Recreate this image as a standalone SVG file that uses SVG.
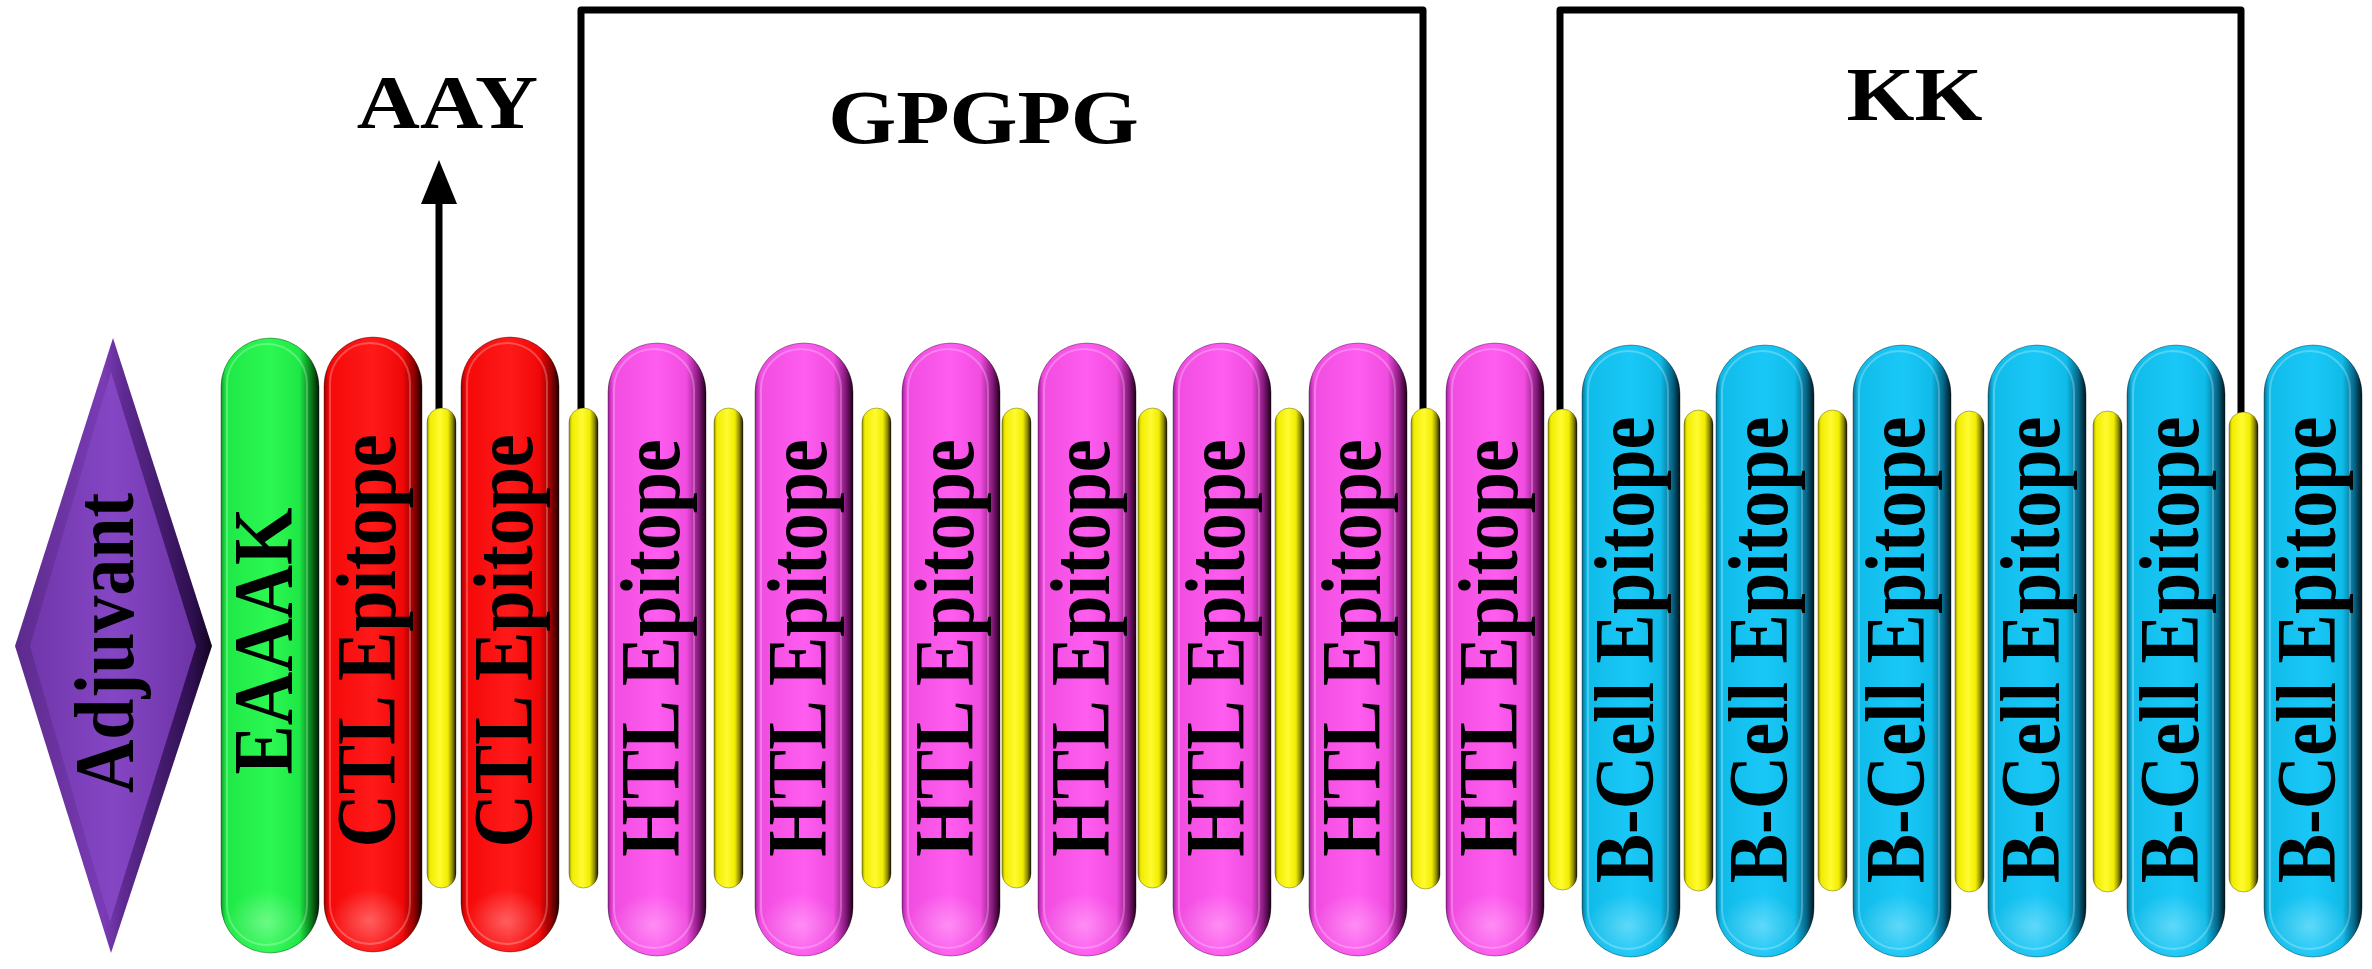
<svg xmlns="http://www.w3.org/2000/svg" width="2372" height="969" viewBox="0 0 2372 969">
<defs>
<style>
.lbl{font-family:"Liberation Serif","Times New Roman",serif;font-weight:bold;font-size:74px;fill:#000;text-anchor:middle}
.hdr{font-family:"Liberation Serif","Times New Roman",serif;font-weight:bold;font-size:76px;fill:#000;text-anchor:middle}
.pill{stroke:#000;stroke-opacity:0.35;stroke-width:1}
.rim{fill:none;stroke:#fff;stroke-opacity:0.25;stroke-width:2}
.bar{stroke:#000;stroke-opacity:0.3;stroke-width:1}
.conn{fill:none;stroke:#000;stroke-width:7;stroke-linejoin:round}
</style>
<linearGradient id="gGreen" x1="0" y1="0" x2="1" y2="0">
<stop offset="0" stop-color="#0c9c22"/><stop offset="0.05" stop-color="#1ee846"/><stop offset="0.5" stop-color="#2cf852"/><stop offset="0.8" stop-color="#1ee846"/><stop offset="0.92" stop-color="#0b7a1a"/><stop offset="1" stop-color="#021a05"/>
</linearGradient>
<linearGradient id="gRed" x1="0" y1="0" x2="1" y2="0">
<stop offset="0" stop-color="#a00000"/><stop offset="0.05" stop-color="#f50808"/><stop offset="0.5" stop-color="#ff1a1a"/><stop offset="0.8" stop-color="#f00808"/><stop offset="0.92" stop-color="#900000"/><stop offset="1" stop-color="#200000"/>
</linearGradient>
<linearGradient id="gMag" x1="0" y1="0" x2="1" y2="0">
<stop offset="0" stop-color="#a0209a"/><stop offset="0.05" stop-color="#f04ce0"/><stop offset="0.5" stop-color="#ff5cf0"/><stop offset="0.8" stop-color="#f04ce0"/><stop offset="0.92" stop-color="#8a1a80"/><stop offset="1" stop-color="#200018"/>
</linearGradient>
<linearGradient id="gCyan" x1="0" y1="0" x2="1" y2="0">
<stop offset="0" stop-color="#0a6e90"/><stop offset="0.05" stop-color="#0fbbe8"/><stop offset="0.5" stop-color="#1ac8f8"/><stop offset="0.8" stop-color="#0fbbe8"/><stop offset="0.92" stop-color="#06688a"/><stop offset="1" stop-color="#001820"/>
</linearGradient>
<linearGradient id="gYel" x1="0" y1="0" x2="1" y2="0">
<stop offset="0" stop-color="#9a9400"/><stop offset="0.1" stop-color="#f0ec00"/><stop offset="0.45" stop-color="#fffb30"/><stop offset="0.72" stop-color="#f0ec00"/><stop offset="0.88" stop-color="#8a8600"/><stop offset="1" stop-color="#1a1800"/>
</linearGradient>
<linearGradient id="gPurOut" x1="0" y1="0" x2="1" y2="0">
<stop offset="0" stop-color="#5c2a8c"/><stop offset="0.45" stop-color="#7a3cb5"/><stop offset="0.55" stop-color="#5e2a92"/><stop offset="0.9" stop-color="#2e0f50"/><stop offset="1" stop-color="#12041f"/>
</linearGradient>
<linearGradient id="gPurIn" x1="0" y1="0" x2="1" y2="0">
<stop offset="0" stop-color="#7036aa"/><stop offset="0.5" stop-color="#8546c4"/><stop offset="1" stop-color="#6c33a6"/>
</linearGradient>
<radialGradient id="glow" cx="0.5" cy="0.5" r="0.5">
<stop offset="0" stop-color="#fff" stop-opacity="0.3"/><stop offset="1" stop-color="#fff" stop-opacity="0"/>
</radialGradient>
<marker id="ah" markerUnits="userSpaceOnUse" markerWidth="44" markerHeight="36" viewBox="0 0 44 36" refX="2" refY="18" orient="auto">
<path d="M0,0 L44,18 L0,36 z" fill="#000"/>
</marker>
</defs>
<rect width="2372" height="969" fill="#fff"/>

<g id="connectors">
<path class="conn" d="M581,410 L581,10 L1423,10 L1423,410"/>
<path class="conn" d="M1560,412 L1560,10 L2241,10 L2241,414"/>
<path class="conn" d="M439,410 L439,202" marker-end="url(#ah)"/>
</g>

<g id="labels">
<text class="hdr" transform="translate(447.5,128) scale(1.15,1)">AAY</text>
<text class="hdr" transform="translate(983.5,143) scale(1.15,1)">GPGPG</text>
<text class="hdr" transform="translate(1914.5,120) scale(1.15,1)">KK</text>
</g>

<g id="adjuvant">
<polygon points="113,338 212,646 111,953 15,646" fill="url(#gPurOut)"/>
<polygon points="111,372 196,646 110,922 30,646" fill="url(#gPurIn)"/>
<text class="lbl" transform="translate(133,643) scale(1.15,1) rotate(-90)">Adjuvant</text>
</g>

<g id="eaaak">
<rect class="pill" x="221" y="338" width="98" height="615" rx="49" fill="url(#gGreen)"/>
<rect class="rim" x="227" y="344" width="80" height="601" rx="40"/>
<ellipse cx="266" cy="922" rx="40" ry="32" fill="url(#glow)"/>
<text class="lbl" transform="translate(292,641) scale(1.15,1) rotate(-90)">EAAAK</text>
</g>

<g id="ctl1">
<rect class="pill" x="324" y="337" width="98" height="615" rx="49" fill="url(#gRed)"/>
<rect class="rim" x="330" y="343" width="80" height="601" rx="40"/>
<ellipse cx="369" cy="921" rx="40" ry="32" fill="url(#glow)"/>
<text class="lbl" transform="translate(395,641) scale(1.15,1) rotate(-90)">CTL Epitope</text>
</g>
<g id="ctl2">
<rect class="pill" x="461" y="337" width="98" height="615" rx="49" fill="url(#gRed)"/>
<rect class="rim" x="467" y="343" width="80" height="601" rx="40"/>
<ellipse cx="506" cy="921" rx="40" ry="32" fill="url(#glow)"/>
<text class="lbl" transform="translate(532,641) scale(1.15,1) rotate(-90)">CTL Epitope</text>
</g>

<g id="htl1">
<rect class="pill" x="608" y="343" width="98" height="613" rx="49" fill="url(#gMag)"/>
<rect class="rim" x="614" y="349" width="80" height="599" rx="40"/>
<ellipse cx="653" cy="925" rx="40" ry="32" fill="url(#glow)"/>
<text class="lbl" transform="translate(679,648) scale(1.15,1) rotate(-90)">HTL Epitope</text>
</g>
<g id="htl2">
<rect class="pill" x="755" y="343" width="98" height="613" rx="49" fill="url(#gMag)"/>
<rect class="rim" x="761" y="349" width="80" height="599" rx="40"/>
<ellipse cx="800" cy="925" rx="40" ry="32" fill="url(#glow)"/>
<text class="lbl" transform="translate(826,648) scale(1.15,1) rotate(-90)">HTL Epitope</text>
</g>
<g id="htl3">
<rect class="pill" x="902" y="343" width="98" height="613" rx="49" fill="url(#gMag)"/>
<rect class="rim" x="908" y="349" width="80" height="599" rx="40"/>
<ellipse cx="947" cy="925" rx="40" ry="32" fill="url(#glow)"/>
<text class="lbl" transform="translate(973,648) scale(1.15,1) rotate(-90)">HTL Epitope</text>
</g>
<g id="htl4">
<rect class="pill" x="1038" y="343" width="98" height="613" rx="49" fill="url(#gMag)"/>
<rect class="rim" x="1044" y="349" width="80" height="599" rx="40"/>
<ellipse cx="1083" cy="925" rx="40" ry="32" fill="url(#glow)"/>
<text class="lbl" transform="translate(1109,648) scale(1.15,1) rotate(-90)">HTL Epitope</text>
</g>
<g id="htl5">
<rect class="pill" x="1173" y="343" width="98" height="613" rx="49" fill="url(#gMag)"/>
<rect class="rim" x="1179" y="349" width="80" height="599" rx="40"/>
<ellipse cx="1218" cy="925" rx="40" ry="32" fill="url(#glow)"/>
<text class="lbl" transform="translate(1244,648) scale(1.15,1) rotate(-90)">HTL Epitope</text>
</g>
<g id="htl6">
<rect class="pill" x="1309" y="343" width="98" height="613" rx="49" fill="url(#gMag)"/>
<rect class="rim" x="1315" y="349" width="80" height="599" rx="40"/>
<ellipse cx="1354" cy="925" rx="40" ry="32" fill="url(#glow)"/>
<text class="lbl" transform="translate(1380,648) scale(1.15,1) rotate(-90)">HTL Epitope</text>
</g>
<g id="htl7">
<rect class="pill" x="1446" y="343" width="98" height="613" rx="49" fill="url(#gMag)"/>
<rect class="rim" x="1452" y="349" width="80" height="599" rx="40"/>
<ellipse cx="1491" cy="925" rx="40" ry="32" fill="url(#glow)"/>
<text class="lbl" transform="translate(1517,648) scale(1.15,1) rotate(-90)">HTL Epitope</text>
</g>

<g id="bcell1">
<rect class="pill" x="1582" y="345" width="98" height="612" rx="49" fill="url(#gCyan)"/>
<rect class="rim" x="1588" y="351" width="80" height="598" rx="40"/>
<ellipse cx="1627" cy="926" rx="40" ry="32" fill="url(#glow)"/>
<text class="lbl" transform="translate(1653,650) scale(1.15,1) rotate(-90)">B-Cell Epitope</text>
</g>
<g id="bcell2">
<rect class="pill" x="1716" y="345" width="98" height="612" rx="49" fill="url(#gCyan)"/>
<rect class="rim" x="1722" y="351" width="80" height="598" rx="40"/>
<ellipse cx="1761" cy="926" rx="40" ry="32" fill="url(#glow)"/>
<text class="lbl" transform="translate(1787,650) scale(1.15,1) rotate(-90)">B-Cell Epitope</text>
</g>
<g id="bcell3">
<rect class="pill" x="1853" y="345" width="98" height="612" rx="49" fill="url(#gCyan)"/>
<rect class="rim" x="1859" y="351" width="80" height="598" rx="40"/>
<ellipse cx="1898" cy="926" rx="40" ry="32" fill="url(#glow)"/>
<text class="lbl" transform="translate(1924,650) scale(1.15,1) rotate(-90)">B-Cell Epitope</text>
</g>
<g id="bcell4">
<rect class="pill" x="1988" y="345" width="98" height="612" rx="49" fill="url(#gCyan)"/>
<rect class="rim" x="1994" y="351" width="80" height="598" rx="40"/>
<ellipse cx="2033" cy="926" rx="40" ry="32" fill="url(#glow)"/>
<text class="lbl" transform="translate(2059,650) scale(1.15,1) rotate(-90)">B-Cell Epitope</text>
</g>
<g id="bcell5">
<rect class="pill" x="2127" y="345" width="98" height="612" rx="49" fill="url(#gCyan)"/>
<rect class="rim" x="2133" y="351" width="80" height="598" rx="40"/>
<ellipse cx="2172" cy="926" rx="40" ry="32" fill="url(#glow)"/>
<text class="lbl" transform="translate(2198,650) scale(1.15,1) rotate(-90)">B-Cell Epitope</text>
</g>
<g id="bcell6">
<rect class="pill" x="2264" y="345" width="98" height="612" rx="49" fill="url(#gCyan)"/>
<rect class="rim" x="2270" y="351" width="80" height="598" rx="40"/>
<ellipse cx="2309" cy="926" rx="40" ry="32" fill="url(#glow)"/>
<text class="lbl" transform="translate(2335,650) scale(1.15,1) rotate(-90)">B-Cell Epitope</text>
</g>

<g id="linkers">
<rect class="bar" x="427" y="408" width="29" height="480" rx="14.5" fill="url(#gYel)"/>
<rect class="bar" x="569" y="408" width="29" height="480" rx="14.5" fill="url(#gYel)"/>
<rect class="bar" x="714" y="408" width="29" height="480" rx="14.5" fill="url(#gYel)"/>
<rect class="bar" x="862" y="408" width="29" height="480" rx="14.5" fill="url(#gYel)"/>
<rect class="bar" x="1002" y="408" width="29" height="480" rx="14.5" fill="url(#gYel)"/>
<rect class="bar" x="1138" y="408" width="29" height="480" rx="14.5" fill="url(#gYel)"/>
<rect class="bar" x="1275" y="408" width="29" height="480" rx="14.5" fill="url(#gYel)"/>
<rect class="bar" x="1411" y="408" width="29" height="481" rx="14.5" fill="url(#gYel)"/>
<rect class="bar" x="1548" y="409" width="29" height="481" rx="14.5" fill="url(#gYel)"/>
<rect class="bar" x="1684" y="410" width="29" height="481" rx="14.5" fill="url(#gYel)"/>
<rect class="bar" x="1818" y="410" width="29" height="481" rx="14.5" fill="url(#gYel)"/>
<rect class="bar" x="1955" y="411" width="29" height="481" rx="14.5" fill="url(#gYel)"/>
<rect class="bar" x="2093" y="411" width="29" height="481" rx="14.5" fill="url(#gYel)"/>
<rect class="bar" x="2229" y="412" width="29" height="480" rx="14.5" fill="url(#gYel)"/>
</g>
</svg>
